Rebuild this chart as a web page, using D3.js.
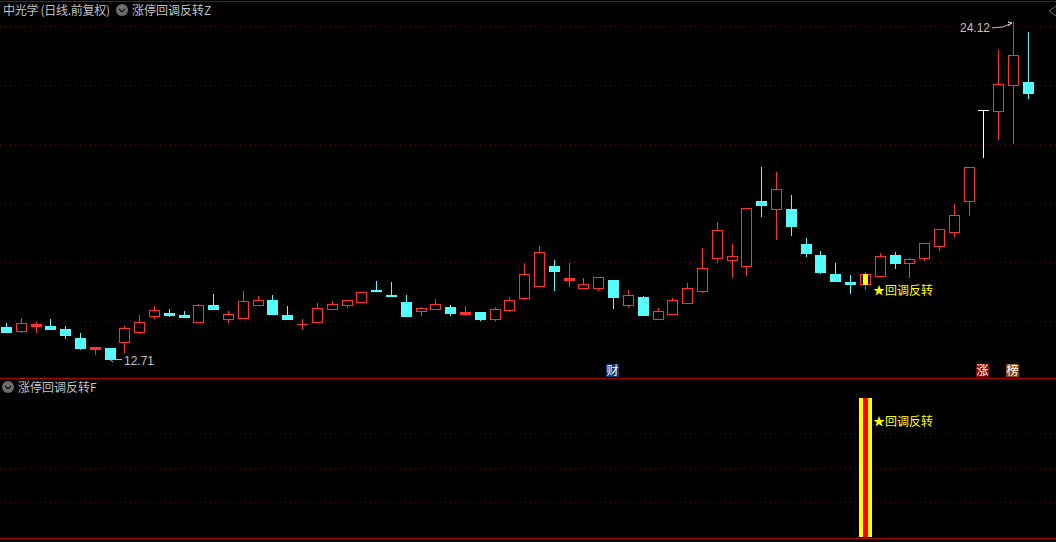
<!DOCTYPE html>
<html><head><meta charset="utf-8">
<script src="https://cdn.jsdelivr.net/npm/d3@7"></script>
<style>html,body{margin:0;padding:0;background:#000;overflow:hidden}svg{display:block}text{font-family:"Noto Sans CJK SC","Liberation Sans",sans-serif;font-size:12px}</style>
</head><body><svg id="c" width="1056" height="542"></svg>
<script>
const opens=[13.79,13.67,13.84,13.83,13.73,13.42,13.05,13.08,13.30,13.64,14.18,14.27,14.20,13.97,14.54,14.07,14.11,14.55,14.71,14.20,13.91,13.97,14.41,14.55,14.65,15.05,14.88,14.64,14.35,14.41,14.47,14.25,14.30,14.08,14.38,14.79,15.19,15.86,15.39,15.13,15.13,15.39,14.55,14.81,14.08,14.25,14.62,15.03,16.14,16.08,15.87,18.07,17.80,17.79,16.61,16.24,15.59,15.32,15.26,15.53,16.24,15.97,16.14,16.55,17.03,18.08,21.14,21.13,22.01,22.10];
const closes=[13.63,13.92,13.90,13.73,13.53,13.08,13.12,12.71,13.75,13.95,14.36,14.20,14.13,14.53,14.40,14.23,14.67,14.70,14.24,14.07,13.91,14.43,14.56,14.70,15.00,15.02,14.85,14.17,14.43,14.56,14.27,14.30,14.07,14.39,14.70,15.58,16.33,15.69,15.46,15.24,15.48,14.81,14.87,14.20,14.33,14.70,15.11,15.78,17.07,16.19,17.82,17.93,18.46,17.22,16.30,15.66,15.36,15.25,15.58,16.19,15.96,16.09,16.63,17.11,17.61,19.21,21.14,22.02,23.01,21.73];
const highs=[13.92,14.09,13.95,14.07,13.83,13.59,13.12,13.08,13.83,14.20,14.51,14.40,14.34,14.57,14.91,14.34,15.01,14.85,14.88,14.51,14.07,14.61,14.68,14.71,15.00,15.35,15.32,14.88,14.46,14.74,14.54,14.51,14.30,14.47,14.81,15.96,16.54,16.07,15.96,15.46,15.48,15.39,15.05,14.85,14.44,14.78,15.29,16.47,17.35,16.61,17.82,19.22,19.05,18.27,16.81,16.37,15.96,15.56,15.66,16.30,16.34,16.14,16.63,17.11,17.96,19.21,21.14,23.19,24.12,23.80];
const lows=[13.59,13.59,13.59,13.69,13.39,13.01,12.85,12.71,12.91,13.56,14.07,14.13,14.10,13.97,14.40,13.93,14.11,14.51,14.20,14.03,13.69,13.97,14.41,14.44,14.61,14.98,14.81,14.13,14.17,14.37,14.17,14.17,14.00,14.01,14.30,14.72,15.19,15.02,15.15,15.08,15.01,14.40,14.44,14.17,14.03,14.20,14.62,14.95,15.96,15.46,15.52,17.52,16.74,16.88,16.17,15.59,15.36,14.91,15.05,15.53,15.76,15.46,16.03,16.37,16.85,17.56,19.53,20.13,20.00,21.52];
const priceTicks=[14,16,18,20,22,24];
const signalTicks=[0.25,0.5,0.75];
const signalIndex=58, signalValue=1;
const whiteIndex=66;
const lowLabel="12.71", highLabel="24.12", signalLabel="★回调反转";
const titleMain="中光学 (日线.前复权)", titleZ="涨停回调反转Z", titleF="涨停回调反转F";
const badges=[{i:41,t:"财",c:"#0b3c73"},{i:66,t:"涨",c:"#7d0a0a"},{i:68,t:"榜",c:"#8a4a0c"}];

const RED="#ff3232",CYAN="#54fcfc",YEL="#ffff00",GRID="#6a0808",LINE="#a80000",TXT="#c0c0c0";
const svg=d3.select("#c");
svg.append("rect").attr("width",1056).attr("height",542).attr("fill","#000");
const x=d3.scaleLinear().domain([0,69]).range([6.4,1028.3]);
const y=d3.scaleLinear().domain([14,24]).range([321,26]);
const ys=d3.scaleLinear().domain([0,1]).range([537,398]);
const cx=i=>Math.floor(x(i));
const ry=v=>Math.round(y(v));

// grid
const grid=svg.append("g").attr("stroke",GRID).attr("stroke-dasharray","1 4").attr("shape-rendering","crispEdges");
grid.selectAll(".a").data(priceTicks).join("line").attr("x1",0).attr("x2",1056)
  .attr("y1",d=>Math.round(y(d))+.5).attr("y2",d=>Math.round(y(d))+.5);
grid.selectAll(".b").data(signalTicks).join("line").attr("x1",0).attr("x2",1056)
  .attr("y1",d=>Math.round(ys(d))+.5).attr("y2",d=>Math.round(ys(d))+.5);

// frame
[1,378,538].forEach(v=>svg.append("line").attr("x1",0).attr("x2",1056).attr("y1",v+.5).attr("y2",v+.5).attr("stroke",LINE));

// candles
const g=svg.append("g").attr("shape-rendering","crispEdges");
opens.forEach((o,i)=>{
  const c=closes[i],up=c>=o,col=i===whiteIndex?"#ffffff":(up?RED:CYAN);
  const px=cx(i),t=ry(Math.max(o,c)),b=ry(Math.min(o,c)),hi=ry(highs[i]),lo=ry(lows[i]);
  g.append("rect").attr("x",px).attr("width",1).attr("y",hi).attr("height",Math.max(lo-hi,1)).attr("fill",col);
  g.append("rect").attr("x",px-5).attr("width",11).attr("y",t).attr("height",b-t+1).attr("fill",col);
  if(up&&b-t>=3) g.append("rect").attr("x",px-4).attr("width",9).attr("y",t+1).attr("height",b-t-1).attr("fill","#000");
});

// signal in the main panel
const sx=cx(signalIndex);
g.append("rect").attr("x",sx-2).attr("width",5).attr("y",ry(closes[signalIndex])).attr("height",ry(opens[signalIndex])-ry(closes[signalIndex])+1).attr("fill",YEL);
svg.append("text").attr("x",sx+8).attr("y",295).attr("fill",YEL).text(signalLabel);

// signal in the lower panel
const st=ys(signalValue),sb=ys(0);
g.append("rect").attr("x",sx-6).attr("width",13).attr("y",st).attr("height",sb-st).attr("fill",YEL);
g.append("rect").attr("x",sx-2).attr("width",5).attr("y",st).attr("height",sb-st).attr("fill","#ff0000");
svg.append("text").attr("x",sx+8).attr("y",426).attr("fill",YEL).text(signalLabel);

// high / low labels
const lowI=lows.indexOf(d3.min(lows)),highI=highs.indexOf(d3.max(highs));
const lyy=y(d3.min(lows)),hyy=y(d3.max(highs));
const ar=svg.append("g").attr("fill","none").attr("stroke",TXT);
ar.append("path").attr("d",d3.line()([[cx(lowI)+12,lyy+.5],[cx(lowI),lyy+.5],[cx(lowI)+3,lyy-2],[cx(lowI),lyy+.5],[cx(lowI)+3,lyy+3]]));
ar.append("path").attr("d",d3.line()([[cx(highI)-21,hyy+5.5],[cx(highI)-10,hyy+4.5],[cx(highI)-1,hyy+.5],[cx(highI)-5,hyy-.5],[cx(highI)-1,hyy+.5],[cx(highI)-5,hyy+3.5]]));
svg.append("text").attr("x",cx(lowI)+14).attr("y",lyy+6).attr("fill",TXT).style("font-family","Liberation Sans").text(lowLabel);
svg.append("text").attr("x",cx(highI)-53).attr("y",hyy+10).attr("fill",TXT).style("font-family","Liberation Sans").text(highLabel);

// titles
svg.append("text").attr("x",3).attr("y",15).attr("fill",TXT).attr("textLength",107).attr("lengthAdjust","spacing").text(titleMain);
svg.append("text").attr("x",132).attr("y",15).attr("fill",TXT).text(titleZ);
svg.append("text").attr("x",18).attr("y",392).attr("fill",TXT).text(titleF);
const icon=(ix,iy)=>{
  svg.append("circle").attr("cx",ix).attr("cy",iy).attr("r",6).attr("fill","#6e6e6e");
  svg.append("path").attr("d",d3.line()([[ix-3,iy-1],[ix,iy+2],[ix+3,iy-1]])).attr("fill","none").attr("stroke","#111").attr("stroke-width",1.2);
};
icon(122,10); icon(8,387);
svg.append("path").attr("d",d3.line()([[1056,6],[1049,11],[1056,16]])).attr("fill","none").attr("stroke","#6e6e6e");

// badges
badges.forEach(b=>{
  const l=cx(b.i)-7;
  svg.append("rect").attr("x",l).attr("y",364).attr("width",13).attr("height",13).attr("fill",b.c);
  svg.append("text").attr("x",l+.5).attr("y",375).attr("fill","#fff").text(b.t);
});
</script></body></html>
